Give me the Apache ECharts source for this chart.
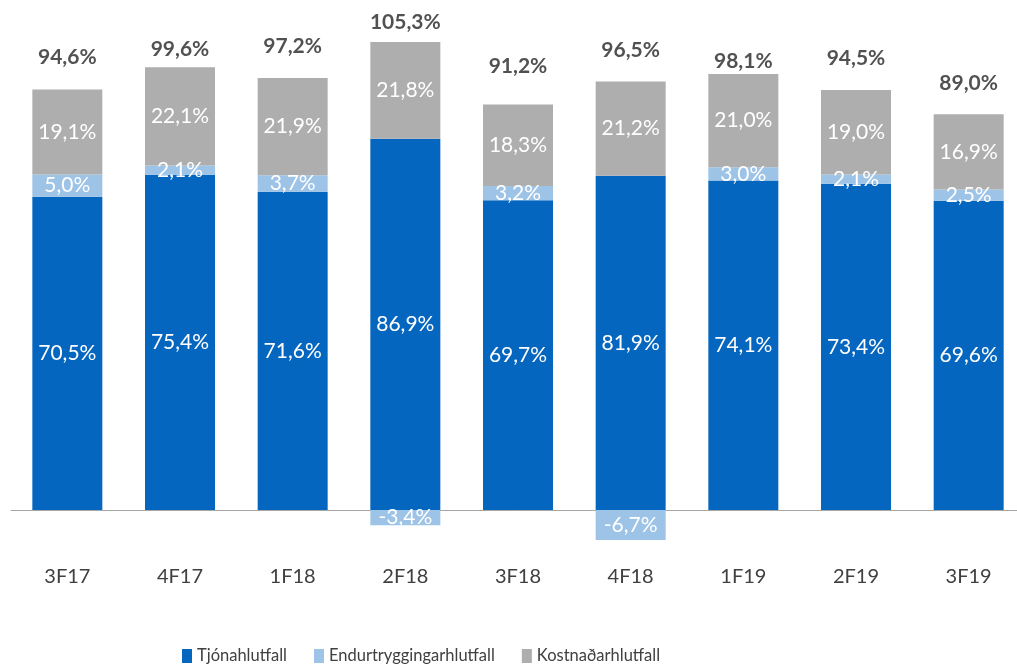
<!DOCTYPE html>
<html>
<head>
<meta charset="utf-8">
<script src="https://cdn.jsdelivr.net/npm/echarts@6/dist/echarts.min.js"></script>
<style>
  html, body { margin: 0; padding: 0; background: #fff; }
  #main { width: 1017px; height: 667px; }
</style>
</head>
<body>
<div id="main"></div>
<script>
var categories = ['3F17', '4F17', '1F18', '2F18', '3F18', '4F18', '1F19', '2F19', '3F19'];
var tjon = [70.5, 75.4, 71.6, 86.9, 69.7, 81.9, 74.1, 73.4, 69.6];
var endur = [5.0, 2.1, 3.7, -3.4, 3.2, -6.7, 3.0, 2.1, 2.5];
var kostn = [19.1, 22.1, 21.9, 21.8, 18.3, 21.2, 21.0, 19.0, 16.9];
var totals = [94.6, 99.6, 97.2, 105.3, 91.2, 96.5, 98.1, 94.5, 89.0];

// gap (px) between bar top and the total label, as placed in the original
var totalLift = [22, 8, 21, 9, 28, 20, 2, 21, 21];

var FONT = 'Lato';

function pct(v) {
    return v.toFixed(1).replace('.', ',') + '%';
}

// blue bar is drawn net of a negative reinsurance ratio, label shows the gross value
var tjonBar = tjon.map(function (v, i) {
    return +(v + Math.min(0, endur[i])).toFixed(1);
});

var inLabel = {
    show: true,
    position: 'inside',
    color: '#ffffff',
    fontFamily: FONT,
    fontSize: 21
};

var myChart = echarts.init(document.getElementById('main'));
var option = {
    animation: false,
    grid: {
        left: 11,
        right: -8,
        top: 21,
        bottom: 108,
        containLabel: false,
        outerBoundsMode: 'none'
    },
    legend: {
        data: ['Tjónahlutfall', 'Endurtryggingarhlutfall', 'Kostnaðarhlutfall'],
        left: 182,
        top: 646,
        padding: 0,
        itemWidth: 10,
        itemHeight: 14,
        itemGap: 27,
        icon: 'rect',
        textStyle: {
            color: '#404040',
            fontFamily: FONT,
            fontSize: 16.5,
            lineHeight: 20
        }
    },
    xAxis: {
        type: 'category',
        data: categories,
        axisLine: { onZero: true, lineStyle: { color: '#a6a6a6', width: 1 } },
        axisTick: { show: false },
        axisLabel: {
            margin: 8,
            color: '#404040',
            fontFamily: FONT,
            fontSize: 20
        }
    },
    yAxis: {
        type: 'value',
        min: -11,
        max: 110,
        show: false,
        splitLine: { show: false }
    },
    series: [
        {
            name: 'Tjónahlutfall',
            type: 'bar',
            stack: 'a',
            barWidth: 70,
            itemStyle: { color: '#0566c0' },
            label: Object.assign({}, inLabel, {
                formatter: function (p) { return pct(tjon[p.dataIndex]); }
            }),
            data: tjonBar
        },
        {
            name: 'Endurtryggingarhlutfall',
            type: 'bar',
            stack: 'a',
            itemStyle: { color: '#9dc3e6' },
            label: Object.assign({}, inLabel, {
                formatter: function (p) { return pct(p.value); }
            }),
            data: endur
        },
        {
            name: 'Kostnaðarhlutfall',
            type: 'bar',
            stack: 'a',
            itemStyle: { color: '#aeaeae' },
            label: Object.assign({}, inLabel, {
                formatter: function (p) { return pct(p.value); }
            }),
            data: kostn
        },
        {
            name: 'total',
            type: 'scatter',
            symbolSize: 0,
            silent: true,
            label: {
                show: true,
                position: 'top',
                color: '#262626',
                fontFamily: FONT,
                fontWeight: 'bold',
                fontSize: 21,
                formatter: function (p) { return pct(p.value); }
            },
            data: totals.map(function (v, i) {
                return { value: v, label: { distance: totalLift[i] } };
            })
        }
    ]
};
myChart.setOption(option);
</script>
</body>
</html>
